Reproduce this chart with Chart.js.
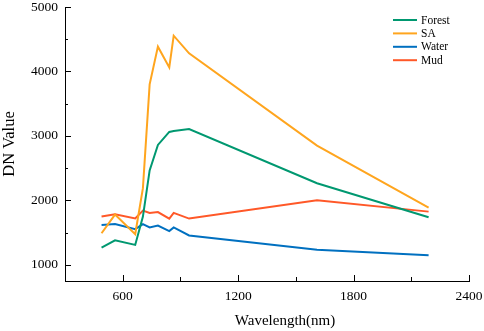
<!DOCTYPE html>
<html lang="en">
<head>
    <meta charset="UTF-8">
    <title>DN Value by Wavelength</title>
    <script src="https://cdn.jsdelivr.net/npm/chart.js"></script>
    <style>
        html, body { margin: 0; padding: 0; background: #fff; }
        .wrap { width: 484px; height: 331px; }
    </style>
</head>
<body>
    <div class="wrap">
        <canvas id="dnChart" width="484" height="331"></canvas>
    </div>

    <script>
        // Data
        const wavelengths = [490, 560, 665, 705, 740, 783, 842, 865, 945, 1610, 2190];
        const forest = [1266, 1380, 1310, 1750, 2465, 2860, 3062, 3078, 3106, 2267, 1740];
        const sa = [1491, 1780, 1476, 2190, 3800, 4385, 4062, 4555, 4282, 2850, 1888];
        const water = [1620, 1633, 1555, 1631, 1580, 1610, 1525, 1582, 1457, 1233, 1150];
        const mud = [1750, 1786, 1721, 1842, 1806, 1820, 1716, 1806, 1718, 2003, 1826];

        const xTicks = [600, 1200, 1800, 2400];
        const yTicks = [1000, 2000, 3000, 4000, 5000];
        const xTitle = 'Wavelength(nm)';

        const FONT = '"Liberation Serif", "Times New Roman", serif';

        function toPoints(values) {
            return wavelengths.map((w, i) => ({ x: w, y: values[i] }));
        }

        function series(label, values, color) {
            return {
                label: label,
                data: toPoints(values),
                borderColor: color,
                backgroundColor: color,
                borderWidth: 2,
                pointRadius: 0,
                tension: 0,
                fill: false
            };
        }

        // let the tick labels hang over the edges instead of shrinking the plot
        function noEdgePadding(s) {
            s.paddingTop = 0;
            s.paddingBottom = 0;
            s.paddingLeft = 0;
            s.paddingRight = 0;
        }

        // Ticks that point into the plot, with minor ticks half way between
        const inwardTicks = {
            id: 'inwardTicks',
            afterDraw(chart) {
                const ctx = chart.ctx;
                const xs = chart.scales.x;
                const ys = chart.scales.y;
                const area = chart.chartArea;
                ctx.save();
                ctx.strokeStyle = '#000';
                ctx.lineWidth = 1;
                ctx.beginPath();
                xTicks.forEach((v) => {
                    const px = Math.round(xs.getPixelForValue(v)) + 0.5;
                    ctx.moveTo(px, area.bottom);
                    ctx.lineTo(px, area.bottom - 6);
                    const half = v - (xTicks[1] - xTicks[0]) / 2;
                    if (half > xs.min) {
                        const hx = Math.round(xs.getPixelForValue(half)) + 0.5;
                        ctx.moveTo(hx, area.bottom);
                        ctx.lineTo(hx, area.bottom - 4);
                    }
                });
                yTicks.forEach((v) => {
                    const py = Math.round(ys.getPixelForValue(v)) + 0.5;
                    ctx.moveTo(area.left, py);
                    ctx.lineTo(area.left + 6, py);
                    const half = v - (yTicks[1] - yTicks[0]) / 2;
                    if (half > ys.min) {
                        const hy = Math.round(ys.getPixelForValue(half)) + 0.5;
                        ctx.moveTo(area.left, hy);
                        ctx.lineTo(area.left + 3, hy);
                    }
                });
                ctx.stroke();

                // x title sits a little right of the plot centre in the original
                ctx.font = '15px ' + FONT;
                ctx.fillStyle = '#000';
                ctx.textAlign = 'center';
                ctx.textBaseline = 'middle';
                ctx.fillText(xTitle, (area.left + area.right) / 2 + 18, chart.height - 10);
                ctx.restore();
            }
        };

        // Small legend in the upper right corner of the plot
        const cornerLegend = {
            id: 'cornerLegend',
            afterDraw(chart) {
                const ctx = chart.ctx;
                const area = chart.chartArea;
                const x0 = area.right - 76;
                const y0 = area.top + 13;
                ctx.save();
                ctx.font = '11.5px ' + FONT;
                ctx.textBaseline = 'middle';
                ctx.fillStyle = '#000';
                chart.data.datasets.forEach((ds, i) => {
                    const y = y0 + i * 13.4;
                    ctx.strokeStyle = ds.borderColor;
                    ctx.lineWidth = 2;
                    ctx.beginPath();
                    ctx.moveTo(x0, y);
                    ctx.lineTo(x0 + 24, y);
                    ctx.stroke();
                    ctx.fillText(ds.label, x0 + 28, y + 0.5);
                });
                ctx.restore();
            }
        };

        const ctx = document.getElementById('dnChart').getContext('2d');
        const dnChart = new Chart(ctx, {
            type: 'line',
            data: {
                datasets: [
                    series('Forest', forest, 'rgb(0, 152, 112)'),
                    series('SA', sa, 'rgb(255, 165, 30)'),
                    series('Water', water, 'rgb(0, 112, 192)'),
                    series('Mud', mud, 'rgb(255, 88, 40)')
                ]
            },
            options: {
                responsive: false,
                animation: false,
                layout: { padding: { top: 7, right: 15, left: 0, bottom: 0 } },
                plugins: {
                    legend: { display: false },
                    tooltip: { enabled: false }
                },
                scales: {
                    x: {
                        type: 'linear',
                        min: 300,
                        max: 2400,
                        afterBuildTicks: (s) => { s.ticks = xTicks.map(v => ({ value: v })); },
                        afterFit: (s) => { s.height = 50; noEdgePadding(s); },
                        grid: { display: false, drawTicks: false },
                        border: { display: true, color: '#000', width: 1 },
                        ticks: {
                            padding: 7,
                            color: '#000',
                            font: { family: FONT, size: 13.5 },
                            maxRotation: 0,
                            callback: (v) => String(v)
                        },
                        title: { display: false }
                    },
                    y: {
                        type: 'linear',
                        min: 750,
                        max: 5000,
                        afterBuildTicks: (s) => { s.ticks = yTicks.map(v => ({ value: v })); },
                        afterFit: (s) => { s.width = 65; noEdgePadding(s); },
                        grid: { display: false, drawTicks: false },
                        border: { display: true, color: '#000', width: 1 },
                        ticks: {
                            padding: 7,
                            color: '#000',
                            font: { family: FONT, size: 13.5 },
                            callback: (v) => String(v)
                        },
                        title: {
                            display: true,
                            text: 'DN Value',
                            color: '#000',
                            font: { family: FONT, size: 16.5 },
                            padding: { top: 0, bottom: 0 }
                        }
                    }
                }
            },
            plugins: [inwardTicks, cornerLegend]
        });
    </script>
</body>
</html>
